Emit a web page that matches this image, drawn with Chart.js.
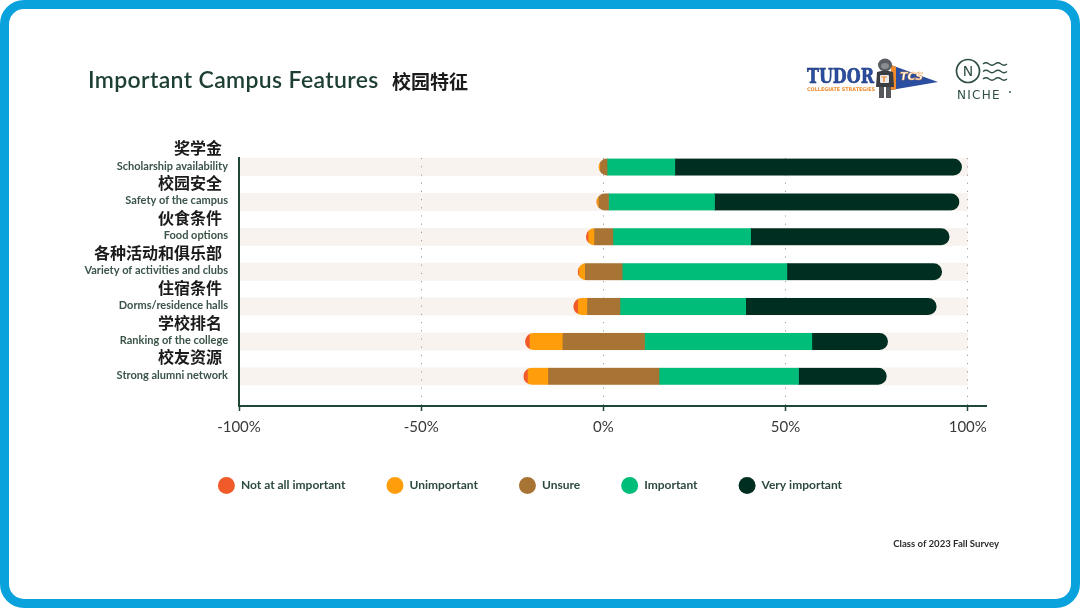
<!DOCTYPE html>
<html>
<head>
<meta charset="utf-8">
<title>Important Campus Features</title>
<script src="https://cdn.jsdelivr.net/npm/chart.js@4.4.0/dist/chart.umd.min.js"></script>
<style>
  html, body { margin: 0; padding: 0; background: #fff; }
  #page { position: relative; width: 1080px; height: 608px; overflow: hidden; }
  #mycanvas { position: absolute; left: 0; top: 0; }
  #frame { position: absolute; left: 0; top: 0; width: 1080px; height: 608px; box-sizing: border-box;
           border: 9px solid #0aa2dc; border-radius: 24px; pointer-events: none; }
  #title { position: absolute; left: 88px; top: 68px; font-family: Lato; font-weight: 600; font-size: 23px;
           letter-spacing: 0.35px; line-height: 1; color: #1d3f31; white-space: nowrap; }
  #titleZh { position: absolute; left: 392px; top: 71px; font-family: "Noto Sans CJK SC"; font-weight: 700;
             font-size: 19px; line-height: 1; color: #1b1b1b; white-space: nowrap; }
  #foot { position: absolute; right: 81px; top: 539px; font-family: Lato; font-weight: 700; font-size: 9.6px;
          line-height: 1; color: #2b2b2b; white-space: nowrap; }
  .logo { position: absolute; }
</style>
</head>
<body>
<div id="page">
  <canvas id="mycanvas" width="1080" height="608"></canvas>

  <div id="title">Important Campus Features</div>
  <div id="titleZh">校园特征</div>

  <svg class="logo" style="left:805px;top:55px" width="140" height="46">
    <text x="2" y="28.3" font-family="DejaVu Serif" font-weight="bold" font-size="20" fill="#2c4ea0"
          stroke="#1c3578" stroke-width="0.6" textLength="67" lengthAdjust="spacingAndGlyphs">TUDOR</text>
    <text x="2" y="35.7" font-family="DejaVu Sans" font-weight="bold" font-size="5.2" fill="#f08a2a"
          textLength="68" lengthAdjust="spacingAndGlyphs">COLLEGIATE STRATEGIES</text>
    <polygon points="86,10 133,27 86,35" fill="#2c4ea0"/>
    <polygon points="86,10 91,11.8 91,34.2 86,35" fill="#f08a2a"/>
    <text x="95" y="25" font-family="DejaVu Sans" font-weight="bold" font-style="italic" font-size="11"
          fill="#fff" stroke="#f08a2a" stroke-width="0.4">TCS</text>
    <ellipse cx="80" cy="10" rx="7" ry="6.5" fill="#5a5d62"/>
    <ellipse cx="80" cy="11" rx="4" ry="3" fill="#8a8d92"/>
    <path d="M72 17 q8 -3 16 0 l1 15 l-18 0 z" fill="#3a3d42"/>
    <rect x="75" y="20" width="9" height="8" rx="1" fill="#e9e9e9"/>
    <text x="76.5" y="27" font-family="DejaVu Sans" font-weight="bold" font-size="7.5" fill="#f08a2a">T</text>
    <rect x="74" y="32" width="5" height="11" fill="#55585c"/>
    <rect x="81" y="32" width="5" height="11" fill="#55585c"/>
  </svg>

  <svg class="logo" style="left:950px;top:55px" width="72" height="50">
    <circle cx="18" cy="16" r="11.5" fill="none" stroke="#2f4f42" stroke-width="1.7"/>
    <text x="18" y="21" text-anchor="middle" font-family="DejaVu Sans" font-size="14" fill="#2f4f42">N</text>
    <path d="M33 9 q3 -2.5 6 0 t6 0 t6 0 t6 0" fill="none" stroke="#2f4f42" stroke-width="1.4"/>
    <path d="M33 16.5 q3 -2.5 6 0 t6 0 t6 0 t6 0" fill="none" stroke="#2f4f42" stroke-width="1.4"/>
    <path d="M33 24 q3 -2.5 6 0 t6 0 t6 0 t6 0" fill="none" stroke="#2f4f42" stroke-width="1.4"/>
    <text x="7" y="44.3" font-family="DejaVu Sans" font-size="12" letter-spacing="1.3" fill="#2f4f42">NICHE</text>
    <circle cx="60" cy="37" r="0.9" fill="#2f4f42"/>
  </svg>

  <div id="foot">Class of 2023 Fall Survey</div>
  <div id="frame"></div>
</div>

<script>
// row labels (Chinese on top, English below)
var labelsZh = ['奖学金', '校园安全', '伙食条件', '各种活动和俱乐部', '住宿条件', '学校排名', '校友资源'];
var labelsEn = ['Scholarship availability', 'Safety of the campus', 'Food options',
                'Variety of activities and clubs', 'Dorms/residence halls', 'Ranking of the college',
                'Strong alumni network'];

// share of answers, in %
var notAtAll      = [0.0, 0.1, 0.6, 0.3, 1.2, 1.2, 1.1];
var unimportant   = [0.3, 0.4, 1.6, 1.6, 2.5, 9.0, 5.6];
var unsure        = [2.0, 2.8, 5.2, 10.3, 9.1, 22.6, 30.5];
var important     = [18.6, 29.1, 37.8, 45.2, 34.5, 45.9, 38.3];
var veryImportant = [78.8, 67.2, 54.6, 42.6, 52.4, 20.9, 24.2];

var seriesNames = ['Not at all important', 'Unimportant', 'Unsure', 'Important', 'Very important'];
var seriesColors = ['#f15a29', '#ff9d0b', '#a87434', '#00bd7a', '#002f22'];
var xTicks = [-100, -50, 0, 50, 100];

// diverging layout: "Unsure" is centred on 0
var segs = [[], [], [], [], []];
for (var i = 0; i < labelsEn.length; i++) {
	var half = unsure[i] / 2;
	var a = -half - unimportant[i] - notAtAll[i];
	var b = -half - unimportant[i];
	var c = half + important[i];
	segs[0].push({y: i, x: [a, b]});
	segs[1].push({y: i, x: [b, -half]});
	segs[2].push({y: i, x: [-half, half]});
	segs[3].push({y: i, x: [half, c]});
	segs[4].push({y: i, x: [c, c + veryImportant[i]]});
}

var datasets = [];
for (var k = 0; k < seriesNames.length; k++) {
	datasets.push({
		label: seriesNames[k],
		data: segs[k],
		backgroundColor: seriesColors[k],
		borderWidth: 0,
		borderSkipped: false,
		barThickness: 17,
		grouped: false
	});
}

function capsulePath(ctx, l, t, w, h) {
	var r = h / 2;
	ctx.moveTo(l + r, t);
	ctx.lineTo(l + w - r, t);
	ctx.arc(l + w - r, t + r, r, -Math.PI / 2, Math.PI / 2);
	ctx.lineTo(l + r, t + h);
	ctx.arc(l + r, t + r, r, Math.PI / 2, Math.PI * 1.5);
	ctx.closePath();
}

// light stripes behind every row
var stripes = {
	id: 'stripes',
	beforeDraw: function(chart) {
		var ctx = chart.ctx, xs = chart.scales.x, ys = chart.scales.y;
		var x0 = xs.getPixelForValue(-100), x1 = xs.getPixelForValue(100);
		ctx.save();
		ctx.fillStyle = '#f8f3ef';
		for (var i = 0; i < labelsEn.length; i++) {
			var cy = ys.getPixelForValue(i);
			ctx.fillRect(x0, cy - 9, x1 - x0, 18);
		}
		ctx.restore();
	}
};

// round the ends of each whole bar
var capsules = {
	id: 'capsules',
	beforeDatasetsDraw: function(chart) {
		var ctx = chart.ctx;
		ctx.save();
		ctx.beginPath();
		for (var i = 0; i < labelsEn.length; i++) {
			var l = Infinity, r = -Infinity, top = 0, h = 0;
			for (var k = 0; k < chart.data.datasets.length; k++) {
				var p = chart.getDatasetMeta(k).data[i].getProps(['x', 'base', 'y', 'height'], true);
				l = Math.min(l, p.x, p.base);
				r = Math.max(r, p.x, p.base);
				top = p.y - p.height / 2;
				h = p.height;
			}
			capsulePath(ctx, l, top, r - l, h);
		}
		ctx.clip();
	},
	afterDatasetsDraw: function(chart) {
		chart.ctx.restore();
	}
};

// two-line row labels with different fonts
var rowLabels = {
	id: 'rowLabels',
	afterDraw: function(chart) {
		var ctx = chart.ctx, ys = chart.scales.y, left = chart.chartArea.left;
		ctx.save();
		ctx.textAlign = 'right';
		ctx.textBaseline = 'middle';
		for (var i = 0; i < labelsEn.length; i++) {
			var cy = ys.getPixelForValue(i);
			ctx.font = 'bold 16px "Noto Sans CJK SC"';
			ctx.fillStyle = '#1b1b1b';
			ctx.fillText(labelsZh[i], left - 17, cy - 19);
			ctx.font = 'bold 11px Lato';
			ctx.fillStyle = '#3a5448';
			ctx.fillText(labelsEn[i], left - 11, cy - 1);
		}
		ctx.restore();
	}
};

var ctx = document.getElementById('mycanvas');

var chart = new Chart(ctx, {
	type: 'bar',
	data: { datasets: datasets },
	plugins: [stripes, capsules, rowLabels],
	options: {
		indexAxis: 'y',
		responsive: false,
		animation: false,
		events: [],
		layout: { padding: { left: 74, right: 94, top: 158, bottom: 104 } },
		scales: {
			x: {
				type: 'linear',
				min: -100,
				max: 105,
				afterBuildTicks: function(scale) {
					scale.ticks = xTicks.map(function(v) { return {value: v}; });
				},
				afterFit: function(scale) { scale.height = 30; },
				ticks: {
					callback: function(v) { return v + '%'; },
					font: { family: 'Lato', size: 15 },
					color: '#3a3a3a',
					padding: 7,
					maxRotation: 0,
					autoSkip: false
				},
				grid: { color: '#9c9c9c', lineWidth: 1, tickLength: 5, tickColor: '#1f4736', tickWidth: 1.5, tickBorderDash: [] },
				border: { color: '#1f4736', width: 2, dash: [1.2, 7] }
			},
			y: {
				type: 'linear',
				reverse: true,
				offset: false,
				min: -0.26,
				max: 6.85,
				afterFit: function(scale) { scale.width = 165; },
				ticks: { display: false },
				grid: { display: false },
				border: { color: '#1f4736', width: 2 }
			}
		},
		plugins: {
			tooltip: { enabled: false },
			legend: {
				position: 'bottom',
				labels: {
					boxWidth: 17,
					boxHeight: 17,
					useBorderRadius: true,
					borderRadius: 8.5,
					padding: 41,
					color: '#2c4a3e',
					font: { family: 'Lato', size: 12, weight: 'bold' }
				}
			}
		}
	}
});
</script>
</body>
</html>
